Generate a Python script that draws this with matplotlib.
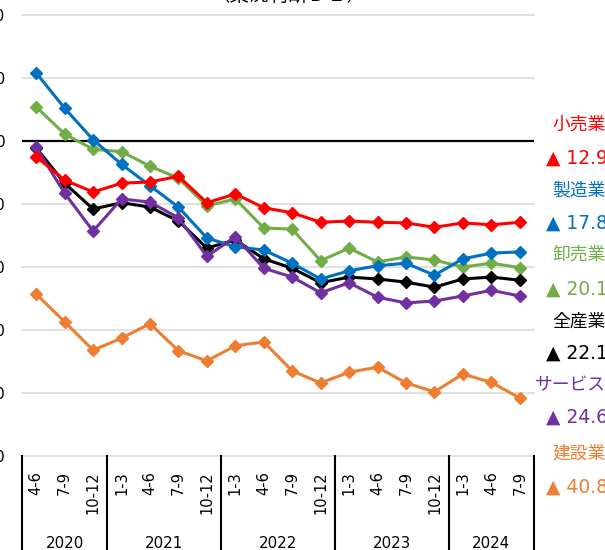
import matplotlib
matplotlib.use("Agg")
import matplotlib.pyplot as plt

plt.rcParams['font.family'] = ['Noto Sans CJK JP', 'DejaVu Sans']

quarters = ["4-6", "7-9", "10-12",
            "1-3", "4-6", "7-9", "10-12",
            "1-3", "4-6", "7-9", "10-12",
            "1-3", "4-6", "7-9", "10-12",
            "1-3", "4-6", "7-9"]
years = ["2020", "2021", "2022", "2023", "2024"]
year_counts = [3, 4, 4, 4, 3]

retail = [-2.5, -6.2, -8.1, -6.7, -6.5, -5.6, -9.8, -8.4, -10.6, -11.4, -12.9, -12.7,
          -12.9, -13.0, -13.7, -13.0, -13.3, -12.9]
manufacturing = [10.8, 5.2, 0.2, -3.7, -7.1, -10.5, -15.4, -16.8, -17.3, -19.4, -21.9, -20.6,
                 -19.8, -19.4, -21.3, -18.7, -17.8, -17.6]
wholesale = [5.4, 1.1, -1.3, -1.7, -4.0, -5.9, -10.3, -9.2, -13.8, -14.0, -19.0, -17.0,
             -19.2, -18.4, -18.9, -20.0, -19.4, -20.1]
all_industry = [-1.1, -6.7, -10.8, -9.8, -10.5, -12.7, -17.0, -15.7, -18.7, -20.2, -22.5, -21.6,
                -21.9, -22.4, -23.2, -21.9, -21.6, -22.1]
services = [-1.0, -8.3, -14.3, -9.2, -9.7, -12.2, -18.3, -15.2, -20.2, -21.6, -24.1, -22.5,
            -24.8, -25.7, -25.4, -24.6, -23.7, -24.6]
construction = [-24.3, -28.7, -33.2, -31.3, -29.0, -33.3, -34.9, -32.5, -31.9, -36.5, -38.4, -36.7,
                -35.9, -38.4, -39.8, -37.0, -38.3, -40.8]

series_names = ["小売業", "製造業", "卸売業", "全産業", "サービス業", "建設業"]
series_labels = ["▲ 12.9", "▲ 17.8", "▲ 20.1", "▲ 22.1", "▲ 24.6", "▲ 40.8"]
series_colors = ["#FF0000", "#0070C0", "#70AD47", "#000000", "#7030A0", "#ED7D31"]
series_data = [retail, manufacturing, wholesale, all_industry, services, construction]

yticks = [20, 10, 0, -10, -20, -30, -40, -50]

W, H = 605, 550
fig = plt.figure(figsize=(W / 100, H / 100), dpi=100)
L, R, T, B = 22, 534, 15, 456
ax = fig.add_axes([L / W, 1 - B / H, (R - L) / W, (B - T) / H])

x = list(range(len(quarters)))
ax.set_xlim(-0.5, len(quarters) - 0.5)
ax.set_ylim(-50, 20)

for yv in yticks:
    if yv == 0:
        ax.axhline(yv, color="black", lw=1.6, zorder=2)
    else:
        ax.axhline(yv, color="#D9D9D9", lw=1.1, zorder=1, clip_on=False)

draw_order = [5, 2, 3, 1, 4, 0]
for k, idx in enumerate(draw_order):
    ax.plot(x, series_data[idx], color=series_colors[idx], lw=2.2, marker="D",
            ms=6.6, mec=series_colors[idx], mfc=series_colors[idx], zorder=3 + k,
            clip_on=False)

for s in ax.spines.values():
    s.set_visible(False)

ax.set_yticks(yticks)
ax.set_yticklabels([str(v) for v in yticks], fontsize=11, family="DejaVu Sans")
ax.tick_params(axis="y", length=0, pad=12)

ax.set_xticks(x)
ax.set_xticklabels(quarters, rotation=90, fontsize=10.5, family="DejaVu Sans", va="top")
ax.tick_params(axis="x", length=0, pad=11)

# year separators and labels
bounds = [0]
for c in year_counts:
    bounds.append(bounds[-1] + c)
for b in bounds:
    ax.plot([b - 0.5, b - 0.5], [0, -0.3], transform=ax.get_xaxis_transform(),
            color="black", lw=1.5, clip_on=False, zorder=5)
for i, yr in enumerate(years):
    cx = (bounds[i] + bounds[i + 1]) / 2 - 0.5
    ax.text(cx, 1 - (543 - T) / (B - T), yr, transform=ax.get_xaxis_transform(),
            ha="center", va="center", fontsize=10.8, family="DejaVu Sans")

# right-side labels
name_y = [125, 190, 255, 322, 385, 453]
val_y = [158, 223, 289, 353, 417, 487]
for i in range(len(series_names)):
    fig.text(579 / W, 1 - name_y[i] / H, series_names[i], color=series_colors[i],
             ha="center", va="center", fontsize=12.8)
    fig.text(546 / W, 1 - val_y[i] / H, series_labels[i],
             color=series_colors[i], ha="left", va="center", fontsize=13.5,
             family=["DejaVu Sans", "Noto Sans CJK JP"])

# title (mostly outside the visible area)
fig.text(288 / W, 1 - 1 / H, "（業況判断ＤＩ）", ha="center", va="baseline", fontsize=14)

fig.savefig("out.png", dpi=100)
